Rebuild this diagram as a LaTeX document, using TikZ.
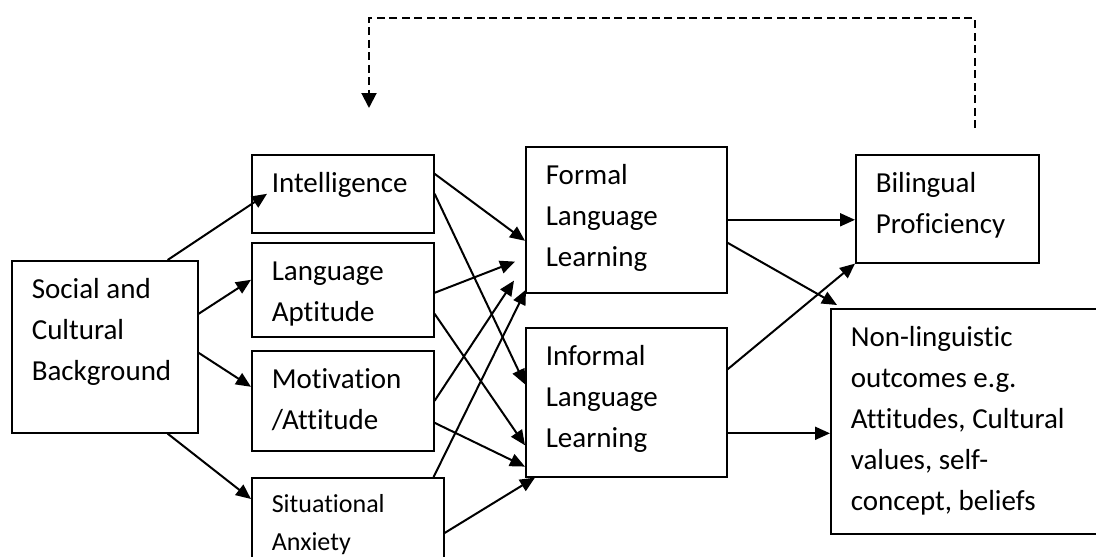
\documentclass[tikz,border=0pt]{standalone}
\usepackage{fontspec}
\setmainfont{Carlito}[Ligatures=NoCommon]
\usetikzlibrary{arrows.meta}
\begin{document}
\begin{tikzpicture}[x=1pt,y=-1pt,
    box/.style={draw,line width=1.6pt,anchor=north west,align=flush left,
        inner xsep=20pt,inner ysep=0pt,text height=38pt,
        font=\fontsize{29}{41}\selectfont},
    arrow/.style={line width=2pt,-{Triangle[length=15pt,width=13pt]}},
    feedback/.style={line width=2pt,dash pattern=on 8pt off 4.5pt,
        -{Triangle[length=15pt,width=15pt]}}]
        \useasboundingbox (0,0) rectangle (1096,557);
        \clip (0,0) rectangle (1096,557);

        % Left column
        \node[box,text width=146pt,text depth=134pt] (soc) at (11,260) {Social and\\Cultural\\Background};

        % Individual factors
        \node[box,text width=142pt,text depth=40pt] (intel) at (251,154) {Intelligence};
        \node[box,text width=142pt,text depth=56pt] (apt) at (251,242) {Language\\Aptitude};
        \node[box,text width=142pt,text depth=62pt] (motiv) at (251,350) {Motivation\\/Attitude};
        \node[box,text width=152pt,text height=35pt,text depth=80pt,
            font=\fontsize{26}{38}\selectfont] (anx) at (251,477) {Situational\\Anxiety};

        % Learning contexts
        \node[box,text width=161pt,text depth=108pt] (formal) at (525,146) {Formal\\Language\\Learning};
        \node[box,text width=161pt,text depth=111pt] (informal) at (525,327) {Informal\\Language\\Learning};

        % Outcomes
        \node[box,text width=143pt,text depth=70pt] (biling) at (855,154) {Bilingual\\Proficiency};
        \node[box,text width=320pt,text depth=187pt] (nonling) at (830,308)
            {Non-linguistic\\outcomes e.g.\\Attitudes, Cultural\\values, self-\\concept, beliefs};

        % Background to individual factors
        \draw[arrow] ([xshift=-31pt]soc.north east) -- ([xshift=16pt]intel.west);
        \draw[arrow] ([yshift=33pt]soc.east) -- ([yshift=10pt]apt.west);
        \draw[arrow] ([yshift=-6pt]soc.east) -- ([yshift=14pt]motiv.west);
        \draw[arrow] ([xshift=-31pt]soc.south east) -- ([yshift=-22pt]anx.north west);

        % Individual factors to learning contexts
        \draw[arrow] ([yshift=20pt]intel.east) -- ([yshift=-21pt]formal.west);
        \draw[arrow] (intel.east) -- ([yshift=18pt]informal.west);
        \draw[arrow] ([yshift=-3pt]apt.east) -- ([xshift=-10pt,yshift=32pt]formal.south west);
        \draw[arrow] ([yshift=-24pt]apt.east) -- ([yshift=-43pt]informal.west);
        \draw[arrow] (motiv.east) -- ([xshift=-11pt,yshift=13pt]formal.south west);
        \draw[arrow] ([yshift=-22pt]motiv.east) -- ([yshift=11pt]informal.south west);
        \draw[arrow] ([xshift=-11pt]anx.north east) -- ([xshift=1pt,yshift=4pt]formal.south west);
        \draw[arrow] ([yshift=-56pt]anx.north east) -- ([xshift=10pt]informal.south west);

        % Learning contexts to outcomes
        \draw[arrow] (formal.east) -- (formal.east -| biling.west);
        \draw[arrow] ([yshift=-23pt]formal.east) -- ([xshift=7pt,yshift=3pt]nonling.north west);
        \draw[arrow] ([yshift=33pt]informal.east) -- (biling.south west);
        \draw[arrow] ([yshift=-31pt]informal.east) -- ([yshift=-31pt]informal.east -| nonling.west);

        % Feedback loop
        \coordinate (fbstart) at ([xshift=-65pt,yshift=26pt]biling.north east);
        \coordinate (fbend) at (369,108);
        \draw[feedback] (fbstart) -- (fbstart |- 0,18) -| (fbend);
    \end{tikzpicture}
\end{document}
